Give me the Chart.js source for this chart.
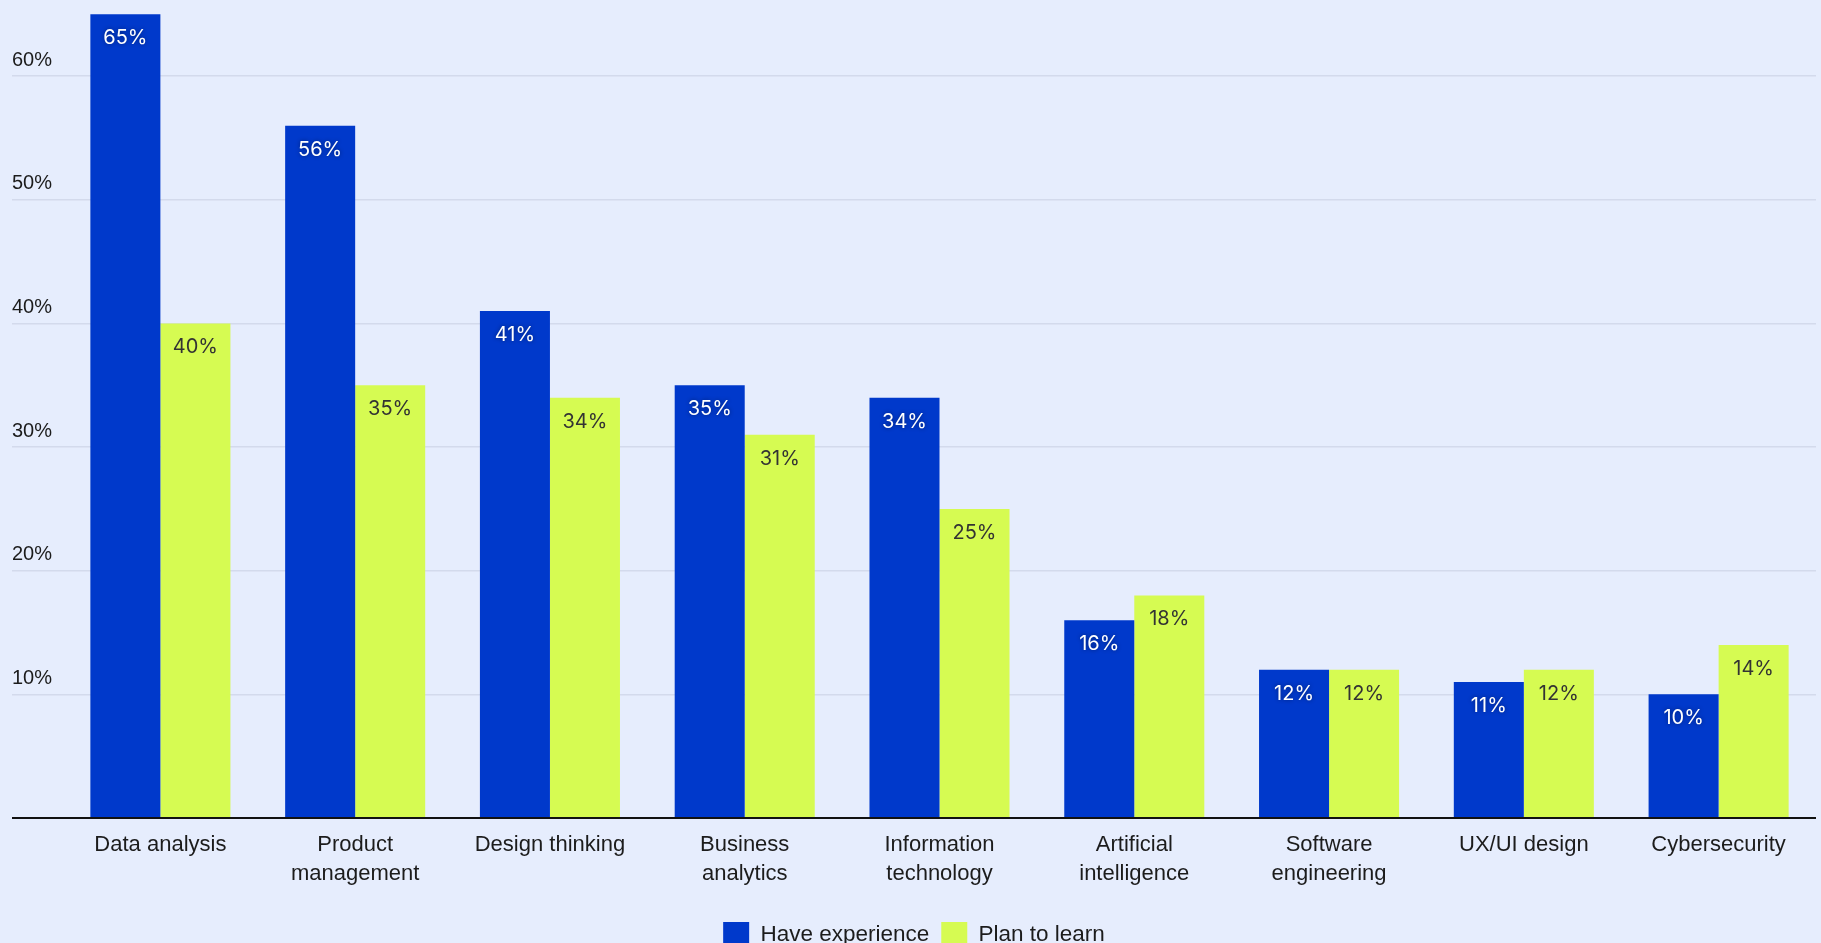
<!DOCTYPE html>
<html>
<head>
<meta charset="utf-8">
<title>Skills: experience vs plans to learn</title>
<script src="https://cdn.jsdelivr.net/npm/chart.js@4.4.1/dist/chart.umd.min.js"></script>
<style>
  html, body { margin: 0; padding: 0; background: #e6edfd; overflow: hidden; }
  #wrap { width: 1821px; height: 960px; position: relative; }
</style>
</head>
<body>
<div id="wrap"><canvas id="skillsChart"></canvas></div>
<script>
const categories = [
    'Data analysis',
    ['Product', 'management'],
    'Design thinking',
    ['Business', 'analytics'],
    ['Information', 'technology'],
    ['Artificial', 'intelligence'],
    ['Software', 'engineering'],
    'UX/UI design',
    'Cybersecurity'
];
const haveExperience = [65, 56, 41, 35, 34, 16, 12, 11, 10];
const planToLearn = [40, 35, 34, 31, 25, 18, 12, 12, 14];
const yTicks = [0, 10, 20, 30, 40, 50, 60];

const BLUE = '#0039cb';
const LIME = '#d6fb52';
const TEXT = '#1c1c1c';

// value labels inside the top of each bar
const barLabels = {
    id: 'barLabels',
    afterDatasetsDraw(chart) {
        const ctx = chart.ctx;
        chart.data.datasets.forEach((ds, i) => {
            const meta = chart.getDatasetMeta(i);
            meta.data.forEach((bar, j) => {
                ctx.save();
                ctx.font = '20px Inter, "Liberation Sans", sans-serif';
                ctx.textAlign = 'center';
                ctx.textBaseline = 'middle';
                if (i === 0) {
                    ctx.fillStyle = '#ffffff';
                    ctx.shadowColor = 'rgba(0, 0, 0, 0.45)';
                    ctx.shadowBlur = 4;
                } else {
                    ctx.fillStyle = '#333333';
                }
                ctx.fillText(ds.data[j] + '%', bar.x, bar.y + 24);
                ctx.restore();
            });
        });
    }
};

const data = {
    labels: categories,
    datasets: [{
        label: 'Have experience',
        data: haveExperience,
        backgroundColor: BLUE,
        borderWidth: 0
    }, {
        label: 'Plan to learn',
        data: planToLearn,
        backgroundColor: LIME,
        borderWidth: 0
    }]
};

const config = {
    type: 'bar',
    data: data,
    options: {
        responsive: true,
        maintainAspectRatio: false,
        animation: false,
        categoryPercentage: 0.719,
        barPercentage: 1.0,
        layout: {
            padding: { left: 12, right: 5, top: 2, bottom: 2 }
        },
        scales: {
            x: {
                grid: { display: false },
                border: { display: false },
                ticks: {
                    color: TEXT,
                    padding: 4,
                    maxRotation: 0,
                    autoSkip: false,
                    font: { family: '"Liberation Sans", Arial, sans-serif', size: 22, lineHeight: 1.32 }
                },
                afterFit: (scale) => {
                    scale.height = 92;
                    scale.paddingLeft = 0;
                    scale.paddingRight = 0;
                }
            },
            y: {
                min: 0,
                max: 66,
                border: { display: false },
                afterBuildTicks: (scale) => {
                    scale.ticks = yTicks.map(v => ({ value: v }));
                },
                grid: {
                    drawTicks: true,
                    tickLength: 51,
                    color: (c) => c.tick && c.tick.value === 0 ? '#111111' : '#d3daec',
                    lineWidth: (c) => c.tick && c.tick.value === 0 ? 2 : 1.5
                },
                ticks: {
                    color: TEXT,
                    crossAlign: 'far',
                    labelOffset: -16,
                    font: { family: '"Liberation Sans", Arial, sans-serif', size: 20 },
                    callback: (v) => v === 0 ? '' : v + '%'
                },
                afterFit: (scale) => {
                    scale.width = 51;
                    scale.paddingTop = 0;
                    scale.paddingBottom = 0;
                }
            }
        },
        plugins: {
            legend: {
                position: 'bottom',
                labels: {
                    boxWidth: 26,
                    boxHeight: 26,
                    padding: 12,
                    color: TEXT,
                    font: { family: '"Liberation Sans", Arial, sans-serif', size: 22.5 }
                }
            },
            tooltip: { enabled: false }
        }
    },
    plugins: [barLabels]
};

const ctx = document.getElementById('skillsChart').getContext('2d');
window.skillsChartInstance = new Chart(ctx, config);
</script>
</body>
</html>
